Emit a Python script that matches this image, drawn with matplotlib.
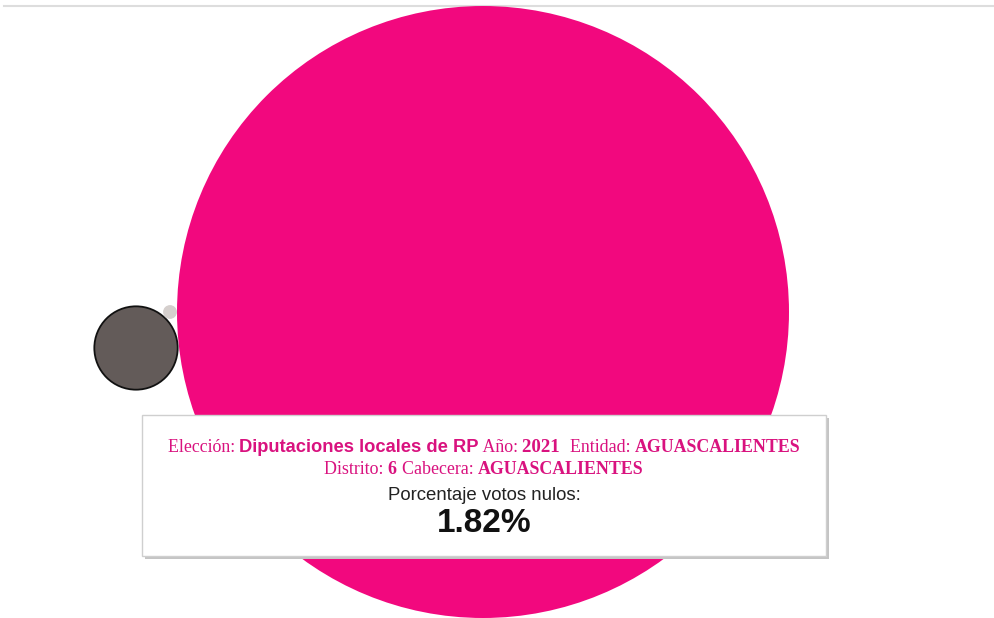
import numpy as np
import matplotlib
matplotlib.use("Agg")
import matplotlib.pyplot as plt
from matplotlib.patches import Circle, Rectangle
from matplotlib.offsetbox import TextArea, HPacker, AnnotationBbox

# bubble data (share of votes, %)
labels = ["Votos válidos", "Votos nulos", "No registrados"]
shares = [98.13, 1.82, 0.05]
colors = ["#f2087e", "#635b59", "#d5cfcd"]
edges = ["none", "#111111", "none"]
# bubble layout (pixel positions from the packing)
cx = [483, 136, 170]
cy = [312, 348, 312]

tip_eleccion = "Diputaciones locales de RP"
tip_anio = "2021"
tip_entidad = "AGUASCALIENTES"
tip_distrito = "6"
tip_cabecera = "AGUASCALIENTES"
tip_valor = shares[1]

W, H = 995, 618
fig = plt.figure(figsize=(W / 100, H / 100), dpi=100)
ax = fig.add_axes([0, 0, 1, 1])
ax.set_xlim(0, W)
ax.set_ylim(H, 0)
ax.axis("off")

# top rule
ax.plot([4, W], [6, 6], color="#dddddd", lw=1.5)

scale = 308.9
for x, y, s, c, e in zip(cx, cy, shares, colors, edges):
    r = scale * np.sqrt(s / 100)
    ax.add_patch(Circle((x, y), r, facecolor=c, edgecolor=e,
                        lw=1.3 if e != "none" else 0, zorder=2))

# tooltip box
bx, by, bw, bh = 142, 415, 684, 141
ax.add_patch(Rectangle((bx + 3, by + 3), bw, bh, facecolor="#c4c4c4",
                       edgecolor="none", zorder=3))
ax.add_patch(Rectangle((bx, by), bw, bh, facecolor="white",
                       edgecolor="#cfcfcf", lw=1, zorder=4))

pink = "#d9127f"
serif = ["Liberation Serif", "DejaVu Serif"]
sans = ["Liberation Sans", "DejaVu Sans"]


def piece(txt, fam, bold=False, size=12.9, color=pink):
    return TextArea(txt, textprops=dict(family=fam, size=size, color=color,
                                        weight="bold" if bold else "normal"))


def line(parts, y):
    box = HPacker(children=parts, align="baseline", pad=0, sep=0)
    ab = AnnotationBbox(box, (484, y), xycoords="data", frameon=False,
                        box_alignment=(0.5, 0.5), zorder=5)
    ax.add_artist(ab)


line([piece("Elección: ", serif),
      piece(tip_eleccion, sans, True, 13.2),
      piece(" Año: ", serif),
      piece(tip_anio + "  ", serif, True, 13.6),
      piece("Entidad: ", serif),
      piece(tip_entidad, serif, True)], 448)
line([piece("Distrito: ", serif),
      piece(tip_distrito + " ", serif, True),
      piece("Cabecera: ", serif),
      piece(tip_cabecera, serif, True)], 470)
line([piece("Porcentaje votos nulos:", sans, False, 13.4, "#222222")], 495)
line([piece(f"{tip_valor:.2f}%", sans, True, 24, "#111111")], 523)

fig.savefig("out.png", dpi=100)
